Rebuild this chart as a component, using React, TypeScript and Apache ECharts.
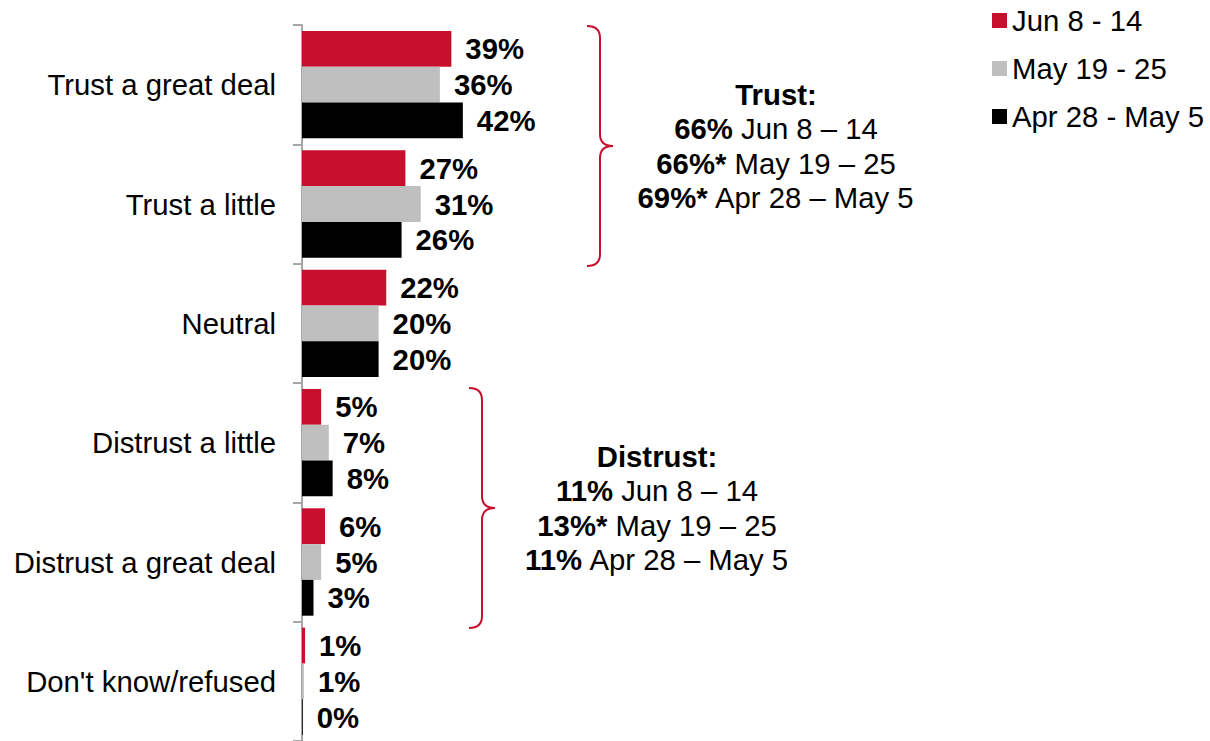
import React, { useEffect, useRef } from "react";
import * as echarts from "echarts";

const categories = [
  "Trust a great deal",
  "Trust a little",
  "Neutral",
  "Distrust a little",
  "Distrust a great deal",
  "Don't know/refused",
];
const seriesNames = ["Jun 8 - 14", "May 19 - 25", "Apr 28 - May 5"];
const junValues = [39, 27, 22, 5, 6, 0.8];
const mayValues = [36, 31, 20, 7, 5, 0.5];
const aprValues = [42, 26, 20, 8, 3, 0.2];
const seriesColors = ["#C8102E", "#BFBFBF", "#000000"];

const trustTitle = "Trust:";
const trustSummary = [
  ["66%", "Jun 8 – 14"],
  ["66%*", "May 19 – 25"],
  ["69%*", "Apr 28 – May 5"],
];
const distrustTitle = "Distrust:";
const distrustSummary = [
  ["11%", "Jun 8 – 14"],
  ["13%*", "May 19 – 25"],
  ["11%", "Apr 28 – May 5"],
];

const FONT = "'Liberation Sans', Arial, Helvetica, sans-serif";
const FS = 29.3;
const BRACE_D =
  "M0,0 C8,0 13,3 13,12 L13,108 C13,117 18,120 26,120 C18,120 13,123 13,132 L13,228 C13,237 8,240 0,240";

let braceRegistered = false;
function registerBrace() {
  if (braceRegistered) return;
  echarts.graphic.registerShape("brace", echarts.graphic.extendPath(BRACE_D, {}));
  braceRegistered = true;
}

function summaryText(title: string, rows: string[][]) {
  return (
    `{b|${title}}\n` +
    rows.map(([v, d]) => `{b|${v}}{r| ${d}}`).join("\n")
  );
}

const rich = {
  b: { fontWeight: "bold", fontSize: FS, fontFamily: FONT, lineHeight: 34.5, fill: "#000", color: "#000" },
  r: { fontWeight: "normal", fontSize: FS, fontFamily: FONT, lineHeight: 34.5, fill: "#000", color: "#000" },
};

export default function App() {
  const ref = useRef<HTMLDivElement>(null);

  useEffect(() => {
    if (!ref.current) return;
    registerBrace();
    const chart = echarts.init(ref.current, undefined, { renderer: "svg" });
    const values = [junValues, mayValues, aprValues];
    const option: any = {
      animation: false,
      backgroundColor: "#ffffff",
      textStyle: { fontFamily: FONT },
      legend: {
        data: seriesNames,
        orient: "vertical",
        left: 987,
        top: 1,
        itemWidth: 15,
        itemHeight: 15,
        itemGap: 19,
        icon: "rect",
        textStyle: { fontSize: FS, fontFamily: FONT, color: "#000", lineHeight: 29 },
      },
      grid: { left: 302, top: 25, width: 383, height: 720, containLabel: false },
      xAxis: { type: "value", min: 0, max: 100, show: false },
      yAxis: {
        type: "category",
        data: categories,
        inverse: true,
        axisLine: { show: true, lineStyle: { color: "#A6A6A6", width: 2 } },
        axisTick: { show: true, length: 9, lineStyle: { color: "#A6A6A6", width: 2 } },
        axisLabel: { fontSize: FS, fontFamily: FONT, color: "#000", margin: 26 },
        splitLine: { show: false },
      },
      series: seriesNames.map((name, i) => ({
        name,
        type: "bar",
        data: values[i],
        barGap: "0%",
        barCategoryGap: "10%",
        itemStyle: { color: seriesColors[i] },
        label: {
          show: true,
          position: "right",
          distance: 14,
          fontSize: FS,
          fontWeight: "bold",
          fontFamily: FONT,
          color: "#000",
          formatter: (p: any) => Math.round(p.value) + "%",
        },
      })),
      graphic: [
        {
          type: "brace",
          x: 587,
          y: 26,
          style: { fill: "none", stroke: "#C8102E", lineWidth: 2 },
        },
        {
          type: "brace",
          x: 469,
          y: 388,
          style: { fill: "none", stroke: "#C8102E", lineWidth: 2 },
        },
        {
          type: "text",
          x: 776,
          y: 146,
          style: {
            text: summaryText(trustTitle, trustSummary),
            rich,
            align: "center",
            verticalAlign: "middle",
            fill: "#000",
            font: `${FS}px ${FONT}`,
          },
        },
        {
          type: "text",
          x: 657,
          y: 508,
          style: {
            text: summaryText(distrustTitle, distrustSummary),
            rich,
            align: "center",
            verticalAlign: "middle",
            fill: "#000",
            font: `${FS}px ${FONT}`,
          },
        },
      ],
    };
    chart.setOption(option);
    return () => chart.dispose();
  }, []);

  return (
    <div
      ref={ref}
      style={{ position: "fixed", left: 0, top: 0, width: 1210, height: 741, background: "#fff" }}
    />
  );
}
